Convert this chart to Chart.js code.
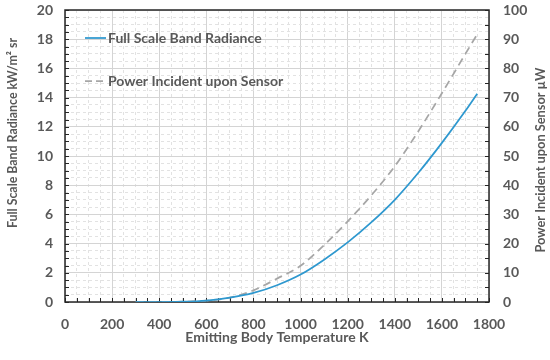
<!DOCTYPE html>
<html><head><meta charset="utf-8">
<script src="https://cdn.jsdelivr.net/npm/chart.js@4.4.0/dist/chart.umd.min.js"></script>
<style>html,body{margin:0;padding:0;background:#fff}#wrap{width:550px;height:360px}</style>
</head><body><div id="wrap"><canvas id="c" width="550" height="360"></canvas></div>
<script>
// ---- data ----
const temperatures = [300, 400, 500, 600, 700, 800, 900, 1000, 1100, 1200, 1300, 1400, 1500, 1600, 1700, 1750];
const bandRadiance = [0, 0, 0.02, 0.1, 0.3, 0.62, 1.15, 1.88, 2.9, 4.08, 5.45, 7.0, 8.85, 10.9, 13.1, 14.27];
const sensorPower  = [0, 0, 0.1, 0.5, 1.5, 4.0, 8.0, 12.4, 19.5, 27.6, 36.5, 46.5, 58.5, 71.5, 85.0, 91.7];
const seriesNames = ['Full Scale Band Radiance', 'Power Incident upon Sensor'];
const xTickLabels = [0, 200, 400, 600, 800, 1000, 1200, 1400, 1600, 1800];
const leftTickLabels = [0, 2, 4, 6, 8, 10, 12, 14, 16, 18, 20];
const rightTickLabels = [0, 10, 20, 30, 40, 50, 60, 70, 80, 90, 100];
const xTitle = 'Emitting Body Temperature K';
const leftTitle = 'Full Scale Band Radiance kW/m\u00B2 sr';
const rightTitle = 'Power Incident upon Sensor \u00B5W';

const FONT = 'Lato';
const TXT = '#595959';
const BLUE = '#2E98CF';
const GRAY = '#A6A6A6';
const MAJOR = '#D4D4D4';
const MINOR = '#E2E2E2';

const xMin = xTickLabels[0], xMax = xTickLabels[xTickLabels.length - 1];
const yMin = leftTickLabels[0], yMax = leftTickLabels[leftTickLabels.length - 1];
const y2Min = rightTickLabels[0], y2Max = rightTickLabels[rightTickLabels.length - 1];

function drawVerticalTitle(ctx, text, cx, cy, width) {
  ctx.save();
  ctx.font = 'bold 14px ' + FONT;
  ctx.fillStyle = TXT;
  ctx.textAlign = 'center';
  ctx.textBaseline = 'middle';
  const w = ctx.measureText(text).width;
  ctx.translate(cx, cy);
  ctx.rotate(-Math.PI / 2);
  ctx.scale(Math.min(1, width / w), 1);
  ctx.fillText(text, 0, 0);
  ctx.restore();
}

const frameAndTicks = {
  id: 'frameAndTicks',
  beforeDatasetsDraw(chart) {
    const {ctx, chartArea: a, scales} = chart;
    ctx.save();
    ctx.strokeStyle = '#262626';
    ctx.lineWidth = 1;
    ctx.beginPath();
    const tl = 4;
    for (let v = xMin; v <= xMax; v += 50) {
      const px = Math.round(scales.x.getPixelForValue(v)) + 0.5;
      ctx.moveTo(px, a.bottom); ctx.lineTo(px, a.bottom - tl);
    }
    for (let v = yMin; v <= yMax; v += 0.5) {
      const py = Math.round(scales.y.getPixelForValue(v)) + 0.5;
      ctx.moveTo(a.left, py); ctx.lineTo(a.left + tl, py);
    }
    for (let v = y2Min; v <= y2Max; v += 5) {
      const py = Math.round(scales.y2.getPixelForValue(v)) + 0.5;
      ctx.moveTo(a.right, py); ctx.lineTo(a.right - tl, py);
    }
    ctx.stroke();
    ctx.lineWidth = 1.5;
    ctx.strokeRect(a.left, a.top, a.right - a.left, a.bottom - a.top);
    ctx.restore();
  },
  afterDraw(chart) {
    const {ctx, chartArea: a} = chart;
    drawVerticalTitle(ctx, leftTitle, 12, 133, 190);
    drawVerticalTitle(ctx, rightTitle, 540, 160, 185);
    ctx.save();
    ctx.font = 'bold 14px ' + FONT;
    ctx.fillStyle = TXT;
    ctx.textAlign = 'left';
    ctx.textBaseline = 'middle';
    const items = [
      {name: seriesNames[0], color: BLUE, dash: [], y: a.top + 28},
      {name: seriesNames[1], color: GRAY, dash: [7, 4], y: a.top + 71}
    ];
    items.forEach(it => {
      ctx.strokeStyle = it.color;
      ctx.lineWidth = 1.75;
      ctx.setLineDash(it.dash);
      ctx.beginPath();
      ctx.moveTo(a.left + 20, it.y); ctx.lineTo(a.left + 41, it.y);
      ctx.stroke();
      ctx.setLineDash([]);
      ctx.fillText(it.name, a.left + 43, it.y);
    });
    ctx.restore();
  }
};

const tickFont = {family: FONT, size: 14, weight: 'bold'};
const noPadV = s => { s.paddingTop = 0; s.paddingBottom = 0; };
const noPadH = s => { s.paddingLeft = 0; s.paddingRight = 0; };

new Chart(document.getElementById('c'), {
  type: 'line',
  data: {
    datasets: [
      {
        label: seriesNames[0],
        data: temperatures.map((t, i) => ({x: t, y: bandRadiance[i]})),
        borderColor: BLUE, borderWidth: 1.75, pointRadius: 0,
        cubicInterpolationMode: 'monotone', yAxisID: 'y', xAxisID: 'x', fill: false
      },
      {
        label: seriesNames[1],
        data: temperatures.map((t, i) => ({x: t, y: sensorPower[i]})),
        borderColor: GRAY, borderWidth: 1.75, borderDash: [8, 5], pointRadius: 0,
        cubicInterpolationMode: 'monotone', yAxisID: 'y2', xAxisID: 'x', fill: false
      }
    ]
  },
  options: {
    responsive: false,
    animation: false,
    devicePixelRatio: 1,
    layout: {padding: {top: 10, left: 0, right: 0, bottom: 0}},
    plugins: {legend: {display: false}, tooltip: {enabled: false}},
    scales: {
      x: {
        type: 'linear', position: 'bottom', min: xMin, max: xMax,
        afterBuildTicks: s => { s.ticks = xTickLabels.map(v => ({value: v})); },
        afterFit: s => { s.height = 58; noPadH(s); },
        ticks: {font: tickFont, color: TXT, padding: 14, maxRotation: 0, autoSkip: false, callback: v => String(v)},
        grid: {color: MAJOR, lineWidth: 1, drawTicks: false},
        border: {display: false},
        title: {display: true, text: xTitle, font: {family: FONT, size: 14, weight: 'bold'}, color: TXT, padding: {top: 0, bottom: 14}}
      },
      xMinor: {
        type: 'linear', position: 'bottom', min: xMin, max: xMax,
        ticks: {display: false, stepSize: 50, autoSkip: false},
        afterFit: s => { s.height = 0; noPadH(s); },
        grid: {color: c => (c.tick && c.tick.value % 200 === 0) ? 'rgba(0,0,0,0)' : MINOR, lineWidth: 1, drawTicks: false},
        border: {display: false, dash: [3, 3]}
      },
      y: {
        type: 'linear', position: 'left', min: yMin, max: yMax,
        afterBuildTicks: s => { s.ticks = leftTickLabels.map(v => ({value: v})); },
        afterFit: s => { s.width = 65; noPadV(s); },
        ticks: {font: tickFont, color: TXT, padding: 12},
        grid: {color: MAJOR, lineWidth: 1, drawTicks: false},
        border: {display: false},
        title: {display: false}
      },
      yMinor: {
        type: 'linear', position: 'left', min: yMin, max: yMax,
        ticks: {display: false, stepSize: 0.5},
        afterFit: s => { s.width = 0; noPadV(s); },
        grid: {color: c => (c.tick && c.tick.value % 2 === 0) ? 'rgba(0,0,0,0)' : MINOR, lineWidth: 1, drawTicks: false},
        border: {display: false, dash: [3, 3]}
      },
      y2: {
        type: 'linear', position: 'right', min: y2Min, max: y2Max,
        afterBuildTicks: s => { s.ticks = rightTickLabels.map(v => ({value: v})); },
        afterFit: s => { s.width = 61; noPadV(s); },
        ticks: {font: tickFont, color: TXT, padding: 14},
        grid: {display: false, drawTicks: false},
        border: {display: false}
      }
    }
  },
  plugins: [frameAndTicks]
});
</script></body></html>
